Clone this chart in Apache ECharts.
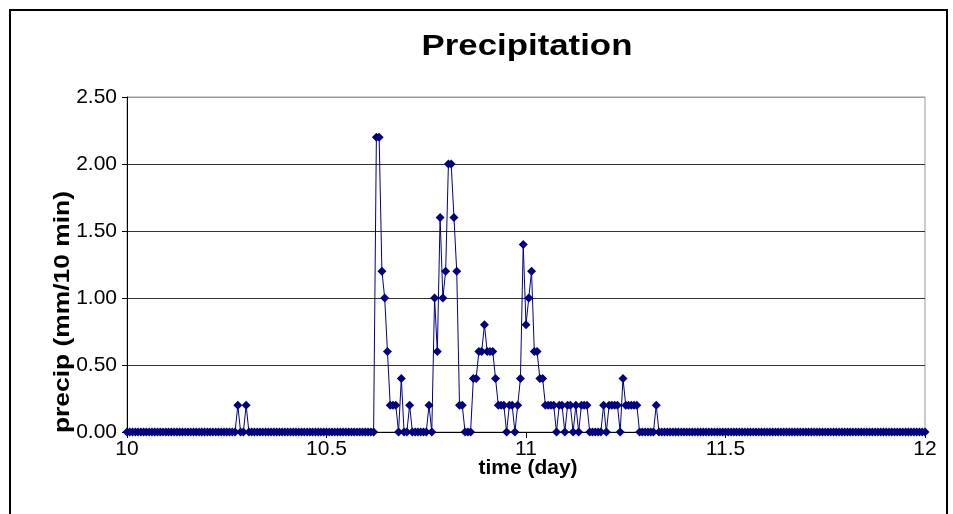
<!DOCTYPE html>
<html>
<head>
<meta charset="utf-8">
<script src="https://cdn.jsdelivr.net/npm/echarts@6/dist/echarts.min.js"></script>
<style>
html,body{margin:0;padding:0;background:#fff;}
#chart{width:953px;height:514px;}
</style>
</head>
<body>
<div id="chart"></div>
<script>
// ---- data ----
var chartTitle = 'Precipitation';
var xAxisTitle = 'time (day)';
var yAxisTitle = 'precip (mm/10 min)';
var startDay = 10;          // first sample (day)
var stepDay = 1 / 144;      // 10-minute sampling interval
var xTicks = [10, 10.5, 11, 11.5, 12];
var yTicks = [0, 0.5, 1.0, 1.5, 2.0, 2.5];
// precipitation per 10 min, day 10.0 .. 12.0 (289 samples, 24 per row = 4 h)
var precip = [
  0,0,0,0,0,0,0,0,0,0,0,0,0,0,0,0,0,0,0,0,0,0,0,0,
  0,0,0,0,0,0,0,0,0,0,0,0,0,0,0,0,0.2,0,0,0.2,0,0,0,0,
  0,0,0,0,0,0,0,0,0,0,0,0,0,0,0,0,0,0,0,0,0,0,0,0,
  0,0,0,0,0,0,0,0,0,0,0,0,0,0,0,0,0,0,2.2,2.2,1.2,1.0,0.6,0.2,
  0.2,0.2,0,0.4,0,0,0.2,0,0,0,0,0,0,0.2,0,1.0,0.6,1.6,1.0,1.2,2.0,2.0,1.6,1.2,
  0.2,0.2,0,0,0,0.4,0.4,0.6,0.6,0.8,0.6,0.6,0.6,0.4,0.2,0.2,0.2,0,0.2,0.2,0,0.2,0.4,1.4,
  0.8,1.0,1.2,0.6,0.6,0.4,0.4,0.2,0.2,0.2,0.2,0,0.2,0.2,0,0.2,0.2,0,0.2,0,0.2,0.2,0.2,0,
  0,0,0,0,0.2,0,0.2,0.2,0.2,0.2,0,0.4,0.2,0.2,0.2,0.2,0.2,0,0,0,0,0,0,0.2,
  0,0,0,0,0,0,0,0,0,0,0,0,0,0,0,0,0,0,0,0,0,0,0,0,
  0,0,0,0,0,0,0,0,0,0,0,0,0,0,0,0,0,0,0,0,0,0,0,0,
  0,0,0,0,0,0,0,0,0,0,0,0,0,0,0,0,0,0,0,0,0,0,0,0,
  0,0,0,0,0,0,0,0,0,0,0,0,0,0,0,0,0,0,0,0,0,0,0,0,
  0
];

var seriesData = precip.map(function (v, i) { return [startDay + i * stepDay, v]; });

var FONT = 'Arial, "Liberation Sans", sans-serif';
var chart = echarts.init(document.getElementById('chart'), null, {renderer: 'canvas'});
chart.setOption({
  animation: false,
  backgroundColor: '#fff',
  grid: {
    left: 127, right: 28, top: 97, bottom: 82,
    show: true, borderColor: '#999', borderWidth: 1, backgroundColor: '#fff'
  },
  xAxis: {
    type: 'value',
    min: xTicks[0], max: xTicks[xTicks.length - 1], interval: 0.5,
    axisLine: {show: true, onZero: false, lineStyle: {color: '#000', width: 1}},
    axisTick: {show: true, inside: false, length: 6, lineStyle: {color: '#000'}},
    axisLabel: {color: '#000', fontFamily: FONT, fontSize: 21, margin: 7},
    splitLine: {show: false}
  },
  yAxis: {
    type: 'value',
    min: yTicks[0], max: yTicks[yTicks.length - 1], interval: 0.5,
    axisLine: {show: true, lineStyle: {color: '#000', width: 1}},
    axisTick: {show: true, inside: false, length: 5, lineStyle: {color: '#000'}},
    axisLabel: {color: '#000', fontFamily: FONT, fontSize: 21, margin: 10,
      formatter: function (v) { return v.toFixed(2); }},
    splitLine: {show: true, lineStyle: {color: ['#000', '#333', '#333', '#333', '#333', '#999'], width: 1}}
  },
  series: [{
    type: 'line',
    data: seriesData,
    symbol: 'diamond',
    symbolSize: 9,
    showAllSymbol: true,
    lineStyle: {color: '#000080', width: 1},
    itemStyle: {color: '#000080'},
    z: 3
  }],
  graphic: [
    {type: 'rect', shape: {x: 10, y: 10, width: 937, height: 520},
      style: {fill: 'none', stroke: '#000', lineWidth: 2}, z: 100},
    {type: 'text', x: 527, y: 47, scaleX: 1.2, style: {text: chartTitle, font: 'bold 29px ' + FONT,
      fill: '#000', textAlign: 'center', textVerticalAlign: 'middle'}},
    {type: 'text', x: 528, y: 468, style: {text: xAxisTitle, font: 'bold 21px ' + FONT,
      fill: '#000', textAlign: 'center', textVerticalAlign: 'middle'}, z: 100},
    {type: 'text', x: 63, y: 312, rotation: Math.PI / 2, scaleX: 1.2, style: {text: yAxisTitle, font: 'bold 22px ' + FONT,
      fill: '#000', textAlign: 'center', textVerticalAlign: 'middle'}, z: 100}
  ]
});
</script>
</body>
</html>
